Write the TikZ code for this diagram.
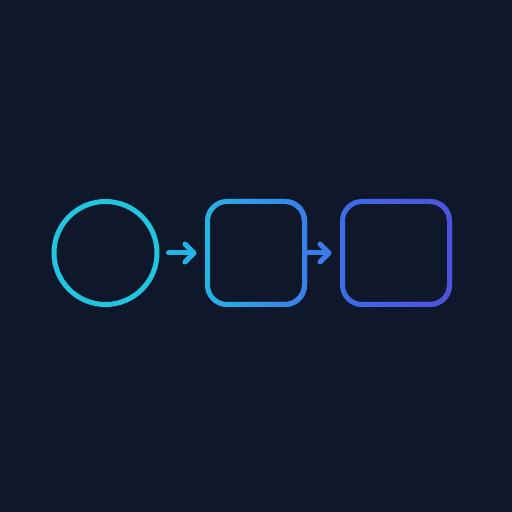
\documentclass[tikz,border=0pt]{standalone}
\usepackage{tikz}
\usetikzlibrary{arrows.meta,positioning,fadings}

\definecolor{bgnavy}{HTML}{0F172A}
\definecolor{startcyan}{HTML}{20C6E0}
\definecolor{linkcyan}{HTML}{25B3E5}
\definecolor{boxAleft}{HTML}{27B4E6}
\definecolor{boxAright}{HTML}{3A7EEA}
\definecolor{linkblue}{HTML}{3B7AEA}
\definecolor{boxBleft}{HTML}{3D6EE8}
\definecolor{boxBright}{HTML}{5050DC}

\tikzset{
        stage/.style={ % Common look of the circle and the boxes
            draw,
            line width=0.1cm,
            inner sep=0pt,
            outer sep=0pt},
        startstage/.style={
            stage,
            circle,
            minimum size=2.06cm},
        boxstage/.style={
            stage,
            rectangle,
            rounded corners=0.39cm,
            minimum height=2.06cm},
        glow/.style={ % Right-hand colour, faded in over the left one
            line width=0.1cm,
            path fading=west},
        every edge/.style={ % Sets the properties for each link
            draw,
            line width=0.1cm,
            line cap=round,
            -{Straight Barb[length=1.8mm,width=3.6mm,round]}}
        }

\begin{document}
\begin{tikzpicture}
    \fill[bgnavy] (0,0) rectangle (10.24,10.24);

    \node[startstage, draw=startcyan]                    (start) at (2.11,5.18) {};
    \node[boxstage, draw=boxAleft, minimum width=1.94cm] (boxa)  at (5.12,5.18) {};
    \node[boxstage, draw=boxBleft, minimum width=2.14cm] (boxb)  at (7.92,5.18) {};

    % gradient towards the right
    \draw[glow, draw=boxAright, rounded corners=0.39cm] (boxa.north west) rectangle (boxa.south east);
    \draw[glow, draw=boxBright, rounded corners=0.39cm] (boxb.north west) rectangle (boxb.south east);

    \draw
        (start) edge[draw=linkcyan, shorten <=0.23cm, shorten >=0.22cm] (boxa)
        (boxa)  edge[draw=linkblue, shorten >=0.22cm] (boxb);
\end{tikzpicture}
\end{document}
